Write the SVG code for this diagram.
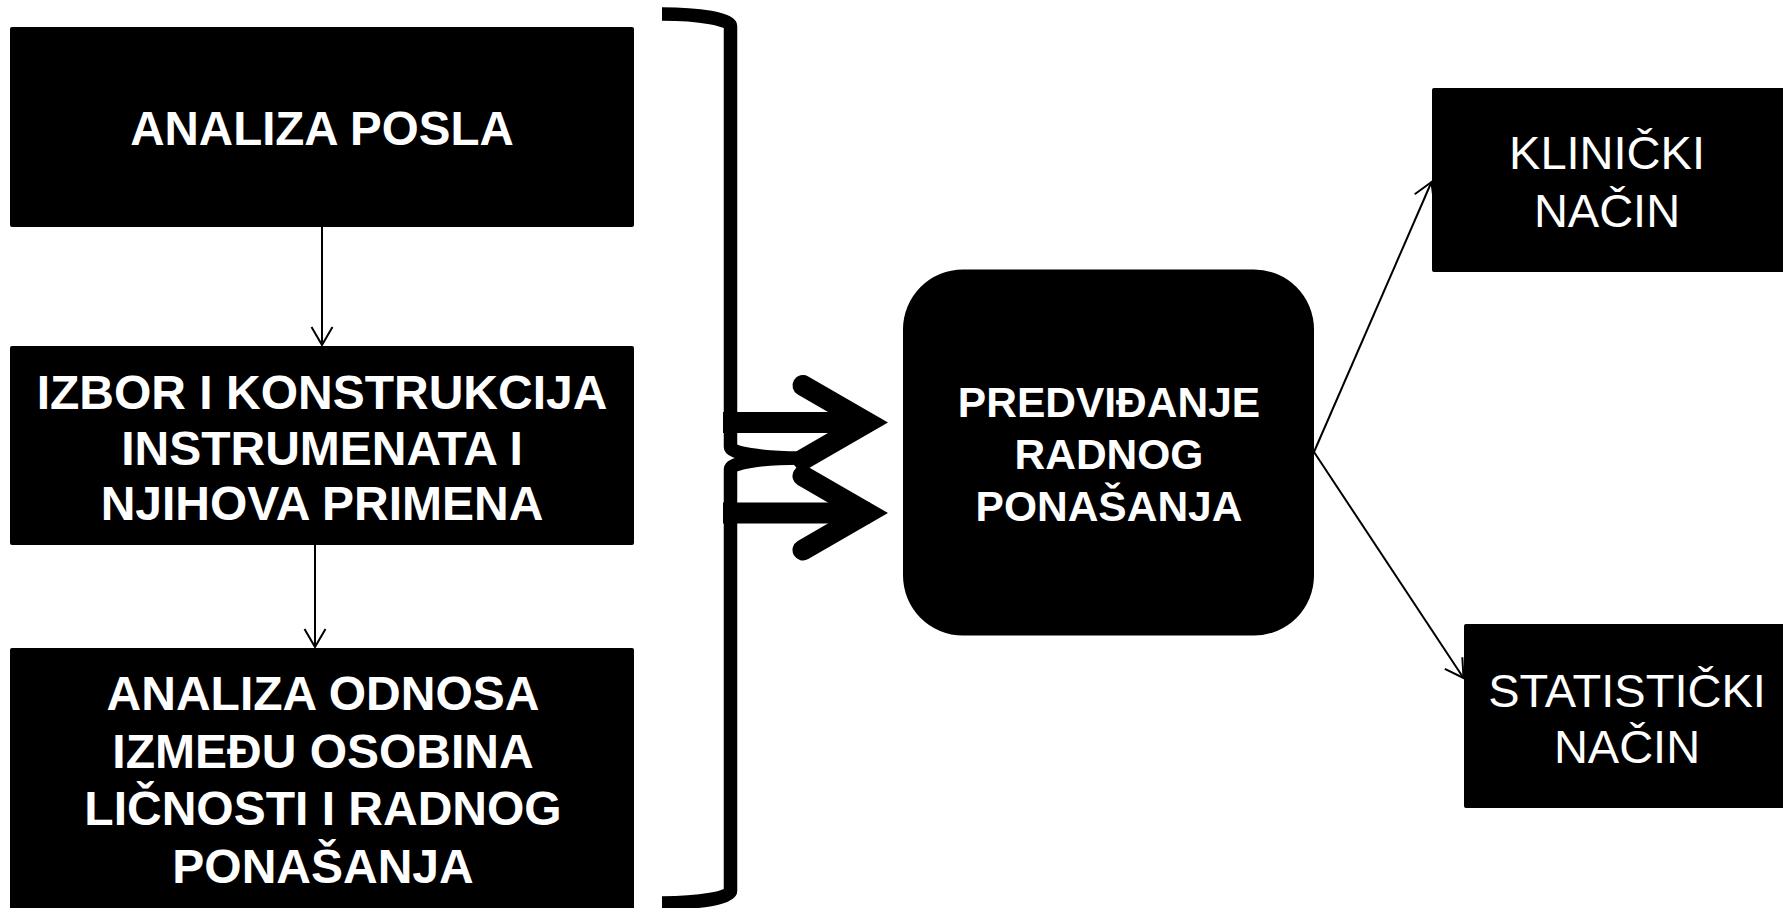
<svg xmlns="http://www.w3.org/2000/svg" width="1783" height="908" viewBox="0 0 1783 908">
  <style>
    .box { fill: #000000; }
    .tb { font-family: "Liberation Sans", Arial, sans-serif; font-weight: bold; fill: #ffffff; text-anchor: middle; }
    .tr { font-family: "Liberation Sans", Arial, sans-serif; font-weight: normal; fill: #ffffff; text-anchor: middle; font-size: 47px; }
    .thin { stroke: #000000; stroke-width: 2; fill: none; }
    .thick { stroke: #000000; fill: none; }
  </style>
  <defs>
    <marker id="open" markerUnits="userSpaceOnUse" markerWidth="30" markerHeight="30" viewBox="-25 -15 30 30" refX="0" refY="0" orient="auto">
      <path d="M -18,-10.5 L 0,0 L -18,10.5" fill="none" stroke="#000000" stroke-width="2"/>
    </marker>
  </defs>
  <rect width="1783" height="908" fill="#ffffff"/>

  <g id="connectors">
    <line class="thin" x1="322" y1="227" x2="322" y2="345" marker-end="url(#open)"/>
    <line class="thin" x1="315" y1="545" x2="315" y2="647" marker-end="url(#open)"/>
    <line class="thin" x1="1314" y1="452" x2="1431.5" y2="182" marker-end="url(#open)"/>
    <line class="thin" x1="1314" y1="452" x2="1463.5" y2="678" marker-end="url(#open)"/>
    <!-- brace -->
    <path class="thick" stroke-width="13.5" stroke-linejoin="round" d="M 662,14 A 68.5,12 0 0 1 730.5,26 L 730.5,447 A 68.5,11 0 0 0 799,458 A 68.5,11 0 0 0 730.5,469 L 730.5,891 A 68.5,12 0 0 1 662,903"/>
    <!-- thick arrows -->
    <line class="thick" stroke-width="21" x1="723" y1="422.5" x2="870" y2="422.5"/>
    <polyline class="thick" stroke-width="21" stroke-linecap="round" stroke-linejoin="miter" stroke-miterlimit="4" points="803,385.5 867,422.5 803,459.5"/>
    <line class="thick" stroke-width="21" x1="723" y1="513" x2="870" y2="513"/>
    <polyline class="thick" stroke-width="21" stroke-linecap="round" stroke-linejoin="miter" stroke-miterlimit="4" points="803,476 867,513 803,550"/>
  </g>

  <g id="analiza-posla">
    <rect class="box" x="10" y="27" width="624" height="200" rx="2"/>
    <text class="tb" font-size="47.5" x="322" y="145">ANALIZA POSLA</text>
  </g>

  <g id="izbor">
    <rect class="box" x="10" y="346" width="624" height="199" rx="2"/>
    <text class="tb" font-size="48" x="322" y="409">IZBOR I KONSTRUKCIJA</text>
    <text class="tb" font-size="48" x="322" y="465">INSTRUMENATA I</text>
    <text class="tb" font-size="48" x="322" y="520">NJIHOVA PRIMENA</text>
  </g>

  <g id="analiza-odnosa">
    <rect class="box" x="10" y="648" width="624" height="270" rx="2"/>
    <text class="tb" font-size="48" x="323" y="710">ANALIZA ODNOSA</text>
    <text class="tb" font-size="48" x="323" y="768">IZMEĐU OSOBINA</text>
    <text class="tb" font-size="48" x="323" y="825">LIČNOSTI I RADNOG</text>
    <text class="tb" font-size="48" x="323" y="883">PONAŠANJA</text>
  </g>

  <g id="predvidjanje">
    <rect class="box" x="903" y="269.5" width="411" height="366" rx="60"/>
    <text class="tb" font-size="42.5" x="1109" y="417">PREDVIĐANJE</text>
    <text class="tb" font-size="42.5" x="1109" y="469">RADNOG</text>
    <text class="tb" font-size="42.5" x="1109" y="521">PONAŠANJA</text>
  </g>

  <g id="klinicki">
    <rect class="box" x="1432" y="88" width="356" height="184" rx="2"/>
    <text class="tr" x="1607" y="169">KLINIČKI</text>
    <text class="tr" x="1607" y="227">NAČIN</text>
  </g>

  <g id="statisticki">
    <rect class="box" x="1464" y="624" width="324" height="184" rx="2"/>
    <text class="tr" x="1627" y="707">STATISTIČKI</text>
    <text class="tr" x="1627" y="763">NAČIN</text>
  </g>
</svg>
